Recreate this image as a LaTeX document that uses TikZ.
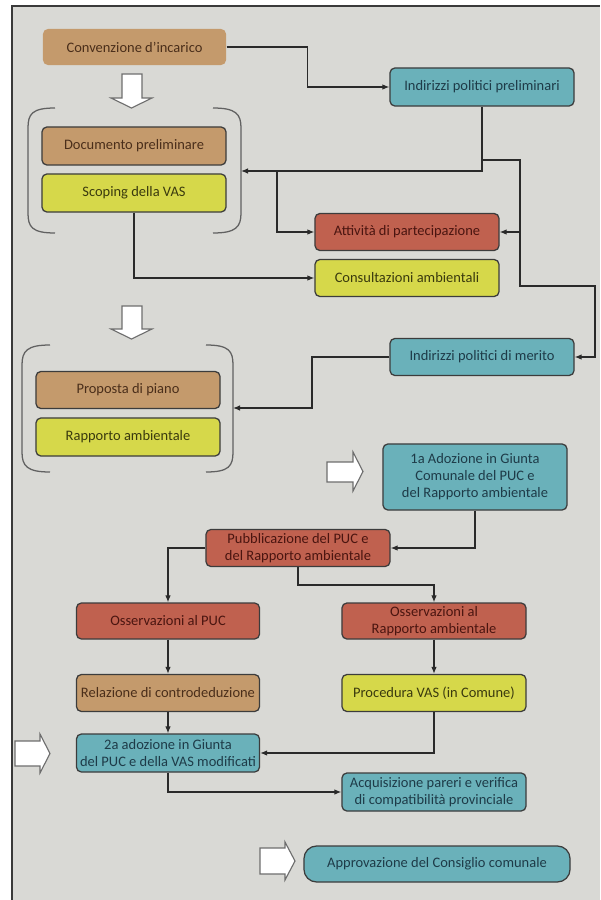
\documentclass[tikz,border=0pt]{standalone}
\usepackage{fontspec}
\setmainfont{Carlito}
\usetikzlibrary{arrows.meta}
\definecolor{bgcol}{HTML}{D9D9D5}
\definecolor{framecol}{HTML}{3A3A3A}
\definecolor{brownfill}{HTML}{C49A6C}
\definecolor{yellowfill}{HTML}{D6D84A}
\definecolor{tealfill}{HTML}{6AB1BA}
\definecolor{redfill}{HTML}{C0614F}
\definecolor{browntext}{HTML}{4A2E1A}
\definecolor{yellowtext}{HTML}{3A3A0E}
\definecolor{tealtext}{HTML}{1E3B48}
\definecolor{redtext}{HTML}{4A1510}
\definecolor{bordercol}{HTML}{3C3C3C}
\definecolor{linecol}{HTML}{2A2A2A}
\definecolor{hollowcol}{HTML}{6E6E6E}
\tikzset{
  box/.style={draw=bordercol, line width=0.9pt, rounded corners=3.5pt,
    minimum width=4.6cm, minimum height=0.95cm, inner sep=0pt, align=center,
    font=\fontsize{10.3}{12}\selectfont},
  brownbox/.style={box, fill=brownfill, text=browntext},
  yellowbox/.style={box, fill=yellowfill, text=yellowtext},
  tealbox/.style={box, fill=tealfill, text=tealtext},
  redbox/.style={box, fill=redfill, text=redtext},
  arr/.style={draw=linecol, line width=0.9pt, -{Latex[length=5pt,width=4pt]}},
  conn/.style={draw=linecol, line width=0.9pt},
  bracket/.style={draw=framecol!80, line width=0.9pt},
  hollow/.style={draw=hollowcol, fill=white, line width=0.8pt, line join=miter}
}
\begin{document}
\begin{tikzpicture}[x=0.025cm, y=-0.025cm]
\useasboundingbox (0,0) rectangle (600,900);
\fill[white] (0,0) rectangle (600,900);
\fill[bgcol] (12,6) rectangle (600,900);
\draw[framecol, line width=1.6pt] (12,900) -- (12,6) -- (600,6);

% nodes
\node[brownbox, draw=none, minimum width=4.575cm, minimum height=0.9cm] (conv) at (134.5,47) {Convenzione d’incarico};
\node[tealbox] (ipp) at (482,87) {Indirizzi politici preliminari};
\node[brownbox] (docp) at (134,146) {Documento preliminare};
\node[yellowbox] (scop) at (134,193) {Scoping della VAS};
\node[redbox, minimum height=0.925cm] (att) at (407,232) {Attività di partecipazione};
\node[yellowbox, minimum height=0.925cm] (cons) at (407,278) {Consultazioni ambientali};
\node[tealbox, minimum height=0.925cm] (ipm) at (482,357) {Indirizzi politici di merito};
\node[brownbox, minimum height=0.925cm] (prop) at (128,390) {Proposta di piano};
\node[yellowbox] (rapp) at (128,437) {Rapporto ambientale};
\node[tealbox, minimum height=1.65cm] (ado1) at (475,477) {1a Adozione in Giunta\\Comunale del PUC e\\del Rapporto ambientale};
\node[redbox, minimum height=0.925cm] (pub) at (298,548) {Pubblicazione del PUC e\\del Rapporto ambientale};
\node[redbox, minimum width=4.575cm, minimum height=0.9cm] (ossp) at (168,621) {Osservazioni al PUC};
\node[redbox, minimum height=0.9cm] (ossr) at (434,621) {Osservazioni al\\Rapporto ambientale};
\node[brownbox, minimum width=4.575cm, minimum height=0.925cm] (rel) at (168,693) {Relazione di controdeduzione};
\node[yellowbox, minimum height=0.925cm] (proc) at (434,693) {Procedura VAS (in Comune)};
\node[tealbox, minimum width=4.575cm] (ado2) at (168,753) {2a adozione in Giunta\\del PUC e della VAS modificati};
\node[tealbox] (acq) at (434,792) {Acquisizione pareri e verifica\\di compatibilità provinciale};
\node[tealbox, minimum width=6.65cm, minimum height=0.9cm, rounded corners=9pt] (appr) at (437,864) {Approvazione del Consiglio comunale};

% brackets
\draw[bracket] (55,108) .. controls (32,108) and (28,114) .. (28,128) -- (28,213) .. controls (28,227) and (32,233) .. (55,233);
\draw[bracket] (213,108) .. controls (236,108) and (241,114) .. (241,128) -- (241,213) .. controls (241,227) and (236,233) .. (213,233);
\draw[bracket] (50,345) .. controls (27,345) and (22,351) .. (22,365) -- (22,452) .. controls (22,466) and (27,472) .. (50,472);
\draw[bracket] (206,345) .. controls (229,345) and (233,351) .. (233,365) -- (233,452) .. controls (233,466) and (229,472) .. (206,472);

% hollow arrows
\draw[hollow] (122,74) -- (142,74) -- (142,98) -- (152,98) -- (131.5,108) -- (111,98) -- (122,98) -- cycle;
\draw[hollow] (122,306) -- (142,306) -- (142,329) -- (152,329) -- (131.5,339) -- (111,329) -- (122,329) -- cycle;
\draw[hollow] (327,462) -- (353,462) -- (353,452) -- (363,471.5) -- (353,491) -- (353,482) -- (327,482) -- cycle;
\draw[hollow] (15,741) -- (40,741) -- (40,734) -- (50,753.5) -- (40,773) -- (40,766) -- (15,766) -- cycle;
\draw[hollow] (260,848) -- (285,848) -- (285,842) -- (295,861) -- (285,880) -- (285,874) -- (260,874) -- cycle;

% connector coordinates
\coordinate (b1r) at (241,171);
\coordinate (j1) at (277,171);
\coordinate (j2) at (482,160);
\coordinate (j3) at (520,232);
\coordinate (b2r) at (233,408);

% connectors
\draw[arr] (conv.east) -- ++(81,0) |- (ipp.west);
\draw[arr] (ipp.south) |- (b1r);
\draw[arr] (j1) |- (att.west);
\draw[arr] (j2) -- (520,160) -- (520,286) -- (595,286) |- (ipm.east);
\draw[arr] (j3) -- (att.east);
\draw[arr] (scop.south) |- (cons.west);
\draw[arr] (ipm.west) -- (312,357) |- (b2r);
\draw[arr] (ado1.south) |- (pub.east);
\draw[arr] (pub.west) -| (ossp.north);
\draw[arr] (pub.south) -- (298,585) -| (ossr.north);
\draw[arr] (ossp) -- (rel);
\draw[arr] (rel) -- (ado2);
\draw[arr] (ossr) -- (proc);
\draw[arr] (proc.south) |- (ado2.east);
\draw[arr] (ado2.south) |- (acq.west);
\end{tikzpicture}
\end{document}
